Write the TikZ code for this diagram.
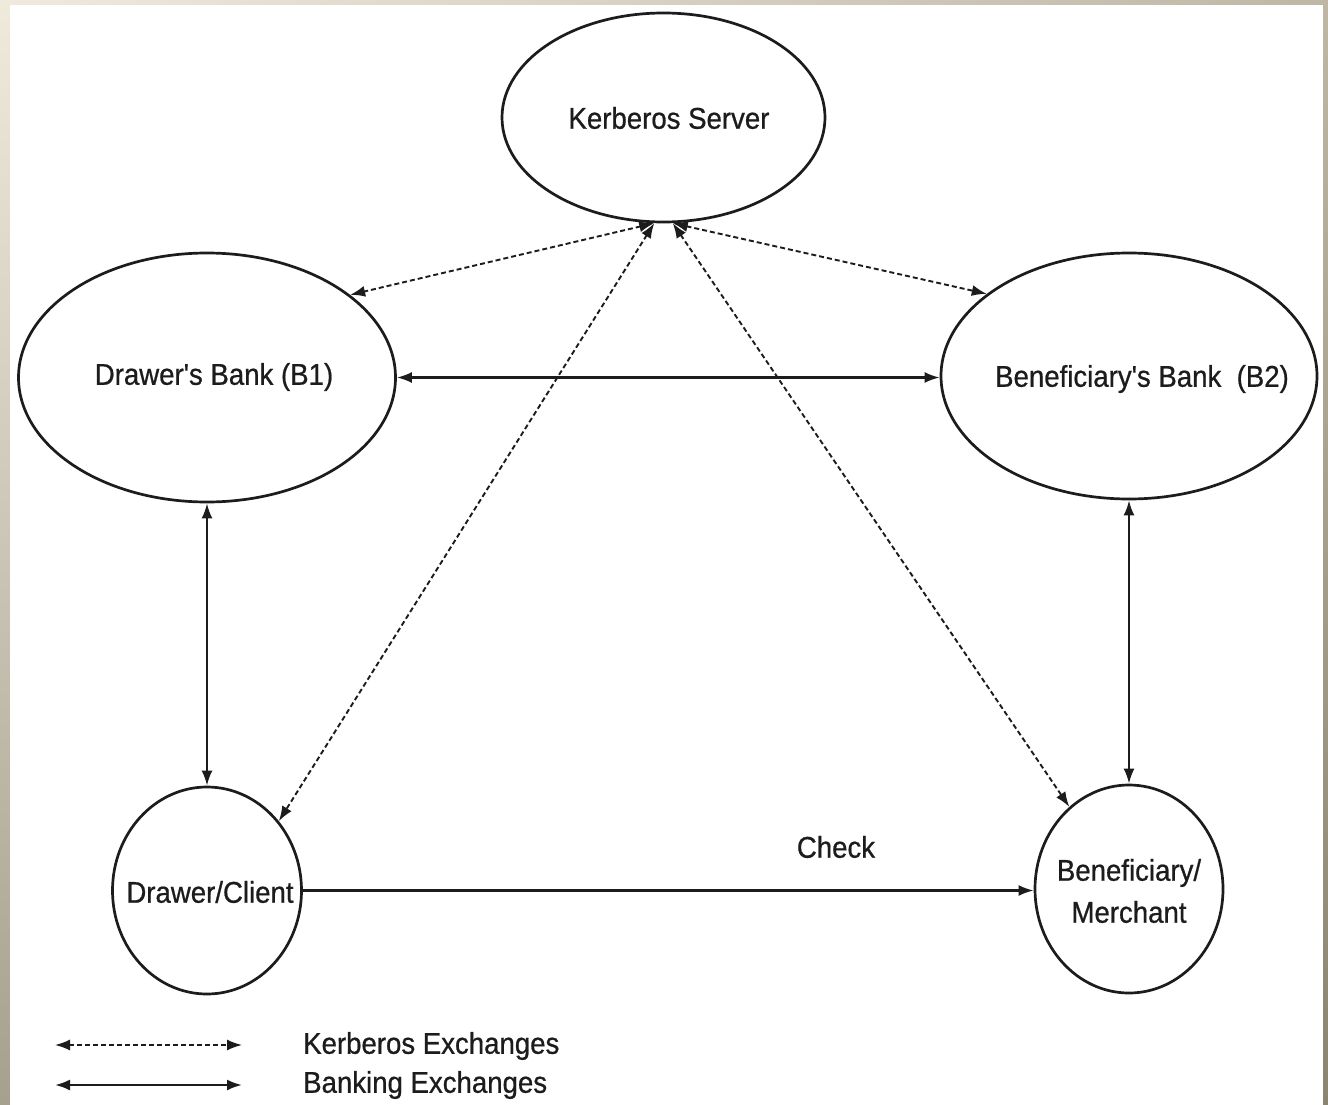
\documentclass[tikz,border=0pt]{standalone}
\usepackage{fontspec}
\setmainfont{Liberation Sans}
\newfontfamily\lblfont{Liberation Sans}[FakeBold=0.7, FakeStretch=0.92]
\usetikzlibrary{arrows.meta,shapes.geometric,shadings}
\definecolor{ink}{HTML}{1C1C1C}
\definecolor{frameUL}{RGB}{239,234,220}
\definecolor{frameUR}{RGB}{190,183,166}
\definecolor{frameLL}{RGB}{166,160,142}
\definecolor{frameLR}{RGB}{138,132,114}
\tikzset{arw/.tip={Latex[length=15pt,width=11pt]}}

\begin{document}
\begin{tikzpicture}[x=1pt,y=-1pt,
  ent/.style={ellipse, draw=ink, line width=2.7pt, inner sep=0pt},
  txt/.style={font=\lblfont\fontsize{30}{42}\selectfont, text=ink, inner sep=0pt, align=center},
  bank/.style={draw=ink, line width=2.3pt},
  kerb/.style={draw=ink, line width=1.9pt, dash pattern=on 5pt off 3pt},
]
\useasboundingbox (0,0) rectangle (1328,1105);
% frame and page
\shade[upper left=frameUL, upper right=frameUR, lower left=frameLL, lower right=frameLR]
  (0,0) rectangle (1328,1105);
\fill[white] (10,5) rectangle (1323,1105);

% parties
\node[ent, minimum width=323pt, minimum height=209pt] (k)  at (663.5,117.5) {};
\node[ent, minimum width=377pt, minimum height=249pt] (b1) at (207,377.5) {};
\node[ent, minimum width=376pt, minimum height=246pt] (b2) at (1129,376) {};
\node[ent, minimum width=189pt, minimum height=207pt] (cl) at (207,890.5) {};
\node[ent, minimum width=188pt, minimum height=208pt] (m)  at (1129,889) {};

\node[txt] (kt)  at (669,118) {Kerberos Server};
\node[txt] (b1t) at (214,377) {Drawer's Bank (B1)};
\node[txt] (b2t) at (1142,379) {Beneficiary's Bank\ \ (B2)};
\node[txt] (clt) at (210,892) {Drawer/Client};
\node[txt] (mt)  at (1129,891) {Beneficiary/\\Merchant};

% Kerberos exchanges
\draw[kerb, arw-arw] (k.265) -- (b1.30);
\draw[kerb, arw-arw] (k.275) -- (b2.150);
\draw[kerb, arw-arw] (k.265) -- (cl.44);
\draw[kerb, arw-arw] (k.275) -- (m.126);

% banking exchanges
\draw[bank, arw-arw] (b1.east) -- (b1.east -| b2.west);
\draw[bank, arw-arw] (b1.south) -- (cl.north);
\draw[bank, arw-arw] (b2.south) -- (m.north);
\draw[bank, -arw] (cl.east) -- (cl.east -| m.west);
\node[txt] (chk) at (836,847) {Check};

% legend
\coordinate (lk1) at (55,1045);
\coordinate (lk2) at (242,1045);
\coordinate (lb1) at (55,1085);
\coordinate (lb2) at (242,1085);
\draw[kerb, line width=1.6pt, arw-arw] (lk1) -- (lk2);
\draw[bank, arw-arw] (lb1) -- (lb2);
\node[txt, anchor=west] (lkt) at (303,1046) {Kerberos Exchanges};
\node[txt, anchor=west] (lbt) at (303,1085) {Banking Exchanges};
\end{tikzpicture}
\end{document}
